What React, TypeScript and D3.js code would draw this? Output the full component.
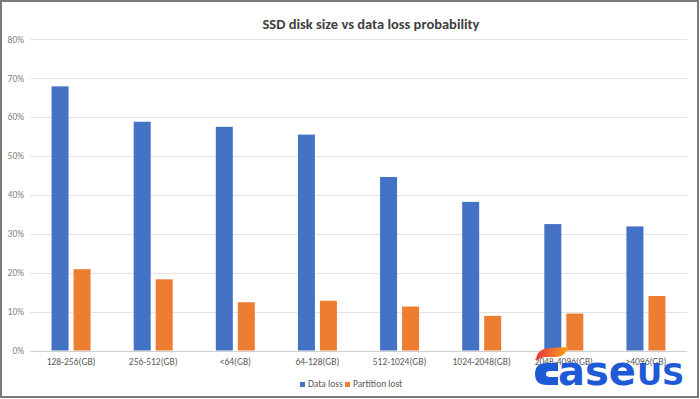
import * as d3 from 'd3'

const categories = ['128-256(GB)', '256-512(GB)', '<64(GB)', '64-128(GB)', '512-1024(GB)', '1024-2048(GB)', '2048-4096(GB)', '>4096(GB)']
const dataLoss = [0.679, 0.588, 0.575, 0.555, 0.446, 0.382, 0.325, 0.319]
const partitionLost = [0.209, 0.183, 0.124, 0.128, 0.113, 0.089, 0.095, 0.14]
const seriesNames = ['Data loss', 'Partition lost']
const colors = ['#4472C4', '#ED7D31']
const yTicks = [0, 0.1, 0.2, 0.3, 0.4, 0.5, 0.6, 0.7, 0.8]

const W = 700
const H = 399
const font = "Carlito, 'Liberation Sans Narrow', 'Liberation Sans', sans-serif"

export default function App() {
  const x = d3.scaleBand().domain(categories).range([30, 687])
  const x1 = d3.scaleBand().domain(seriesNames).range([-19.5, 19.5]).paddingInner(0.227)
  const y = d3.scaleLinear().domain([0, 0.8]).range([350.5, 39.3])
  const pct = d3.format('.0%')
  const values = [dataLoss, partitionLost]

  return (
    <svg width={W} height={H} style={{ position: 'absolute', left: 0, top: 0, background: '#fff' }} fontFamily={font}>
      <defs>
        <linearGradient id="swoosh" x1="0" x2="1" y1="0" y2="0">
          <stop offset="0" stopColor="#e8343a" />
          <stop offset="1" stopColor="#f9a51a" />
        </linearGradient>
      </defs>
      <rect x={0} y={0} width={W} height={H} fill="#fff" />
      <text x={371} y={29} textAnchor="middle" fontSize={14.5} fontWeight="bold" fill="#404040">
        SSD disk size vs data loss probability
      </text>

      {yTicks.map(t => (
        <g key={t}>
          <line x1={30} x2={687} y1={Math.round(y(t)) + 0.5} y2={Math.round(y(t)) + 0.5} stroke={t === 0 ? '#d0d0d0' : '#e3e3e3'} />
          <text x={24} y={y(t)} dy="0.35em" textAnchor="end" fontSize={9.5} fill="#7f7f7f">{pct(t)}</text>
        </g>
      ))}

      {categories.map((c, i) => (
        <g key={c} transform={`translate(${x(c)! + x.bandwidth() / 2},0)`}>
          {seriesNames.map((s, j) => (
            <rect key={s} x={x1(s)} width={x1.bandwidth()} y={y(values[j][i])}
              height={y(0) - y(values[j][i])} fill={colors[j]} />
          ))}
          <text y={365} textAnchor="middle" fontSize={9.5} fill="#595959">{c}</text>
        </g>
      ))}

      <g fontSize={9.5} fill="#595959">
        <rect x={300} y={382} width={5} height={5} fill={colors[0]} />
        <text x={308} y={387}>{seriesNames[0]}</text>
        <rect x={345} y={382} width={5} height={5} fill={colors[1]} />
        <text x={353} y={387}>{seriesNames[1]}</text>
      </g>

      {/* watermark */}
      <g>
        <path d="M536,361 Q536,348 552,348 L568,347 Q566,356 557,357 L548,357 Q540,357 536,361 Z" fill="url(#swoosh)" />
        <path d="M558,363 L547,363 Q535,363 535,374 Q535,385 547,385 L558,385 L558,377 L550,377 Q546,377 546,374 Q546,371 550,371 L558,371 Z" fill="#1f5ad6" />
        <text x={558} y={385} fill="#1f5ad6" fontFamily="'DejaVu Sans', sans-serif" fontWeight="bold">
          <tspan fontSize={40}>ase</tspan><tspan fontSize={31} dx={1}>US</tspan>
        </text>
      </g>

      <rect x={1} y={1} width={697} height={396} fill="none" stroke="#7a7a7a" strokeWidth={2} />
    </svg>
  )
}
